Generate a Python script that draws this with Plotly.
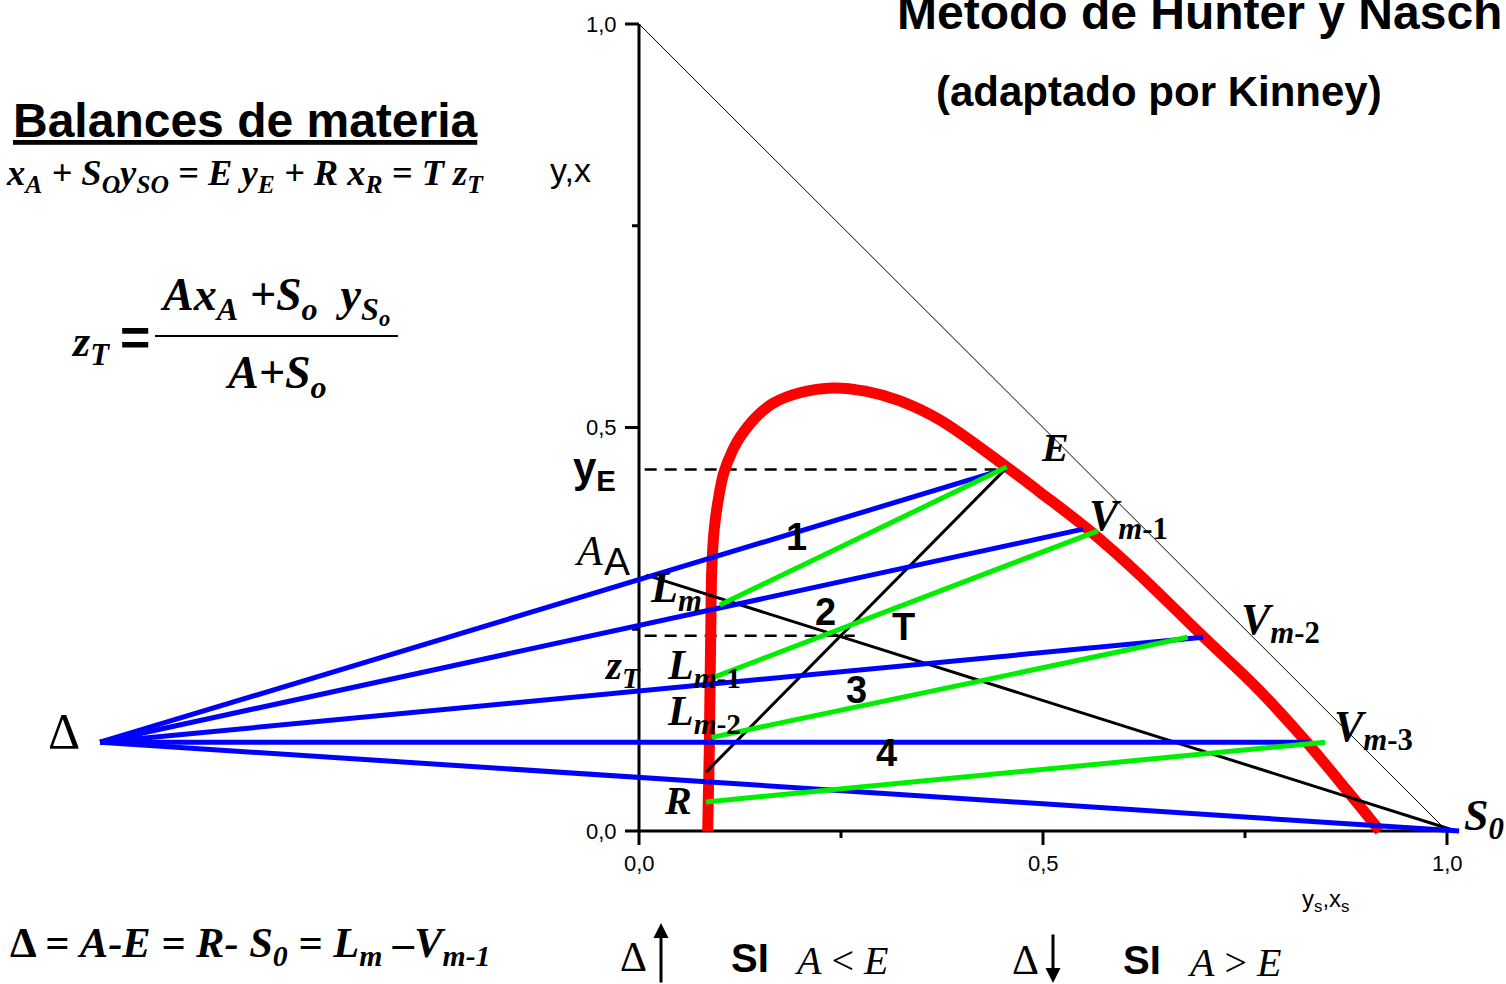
import plotly.graph_objects as go

W, H = 1506, 984
# pixel calibration of the reference: x=0 -> 639px, 1 unit = 808px ; y=0 -> 831px, 1 unit = 807px
X0, XS, Y0, YS = 639.0, 808.0, 831.0, 807.0
x_range = [-X0 / XS, (W - X0) / XS]
y_range = [-(H - Y0) / YS, Y0 / YS]

# ---------------- data ----------------
binodal_x = [0.085, 0.087, 0.088, 0.089, 0.090, 0.093, 0.098, 0.105, 0.116, 0.125, 0.144,
             0.166, 0.199, 0.240, 0.280, 0.323, 0.373, 0.455, 0.496, 0.558, 0.620, 0.694,
             0.765, 0.822, 0.874, 0.917]
binodal_y = [0.000, 0.100, 0.187, 0.261, 0.323, 0.373, 0.410, 0.444, 0.472, 0.488, 0.512,
             0.530, 0.543, 0.549, 0.545, 0.533, 0.509, 0.451, 0.420, 0.372, 0.317, 0.245,
             0.177, 0.115, 0.053, 0.000]

delta_pt = (-0.667, 0.110)
# operating lines from Delta
op_end_x = [0.452, 0.5495, 0.698, 0.830, 1.015]
op_end_y = [0.448, 0.374, 0.240, 0.110, 0.000]

# tie lines (raffinate L -> extract V)
tie_L_x = [0.100, 0.094, 0.090, 0.083]
tie_L_y = [0.280, 0.191, 0.116, 0.036]
tie_V_x = [0.455, 0.568, 0.679, 0.849]
tie_V_y = [0.451, 0.372, 0.240, 0.110]

# mixing lines
line_ER_x = [0.454, 0.083]
line_ER_y = [0.449, 0.073]
line_AS_x = [0.009, 1.011]
line_AS_y = [0.317, 0.000]

# dashed reference levels
yE_level, yE_span = 0.448, [0.007, 0.475]
zT_level, zT_span = 0.242, [0.007, 0.267]

hyp_x = [0.0, 1.0]
hyp_y = [1.0, 0.0]

tick_major = [0.0, 0.5, 1.0]
tick_minor = [0.25, 0.75]
tick_labels = ["0,0", "0,5", "1,0"]

# ---------------- figure ----------------
fig = go.Figure()

def line(xs, ys, color, width, dash=None):
    fig.add_trace(go.Scatter(x=xs, y=ys, mode="lines",
                             line=dict(color=color, width=width, dash=dash),
                             hoverinfo="skip", showlegend=False))

# hypotenuse
line(hyp_x, hyp_y, "black", 1)
# axes
line([0, 0], [0, 1], "black", 3)
line([0, 1], [0, 0], "black", 3)
TL, TS = 14 / XS, 7 / XS
TLy, TSy = 14 / YS, 7 / YS
for t in tick_major:
    line([t, t], [0, -TLy], "black", 3)
    line([0, -TL], [t, t], "black", 3)
for t in tick_minor:
    line([t, t], [0, -TSy], "black", 3)
    line([0, -TS], [t, t], "black", 3)

# dashed levels
line(yE_span, [yE_level, yE_level], "black", 2.5, "12px,8px")
line(zT_span, [zT_level, zT_level], "black", 2.5, "12px,8px")

# binodal curve
fig.add_trace(go.Scatter(x=binodal_x, y=binodal_y, mode="lines",
                         line=dict(color="#ff0000", width=11, shape="spline", smoothing=1.0),
                         hoverinfo="skip", showlegend=False))

# black mixing lines
line(line_ER_x, line_ER_y, "black", 3)
line(line_AS_x, line_AS_y, "black", 3)

# blue operating lines
for ex, ey in zip(op_end_x, op_end_y):
    line([delta_pt[0], ex], [delta_pt[1], ey], "#0000ff", 5)

# green tie lines
for lx, ly, vx, vy in zip(tie_L_x, tie_L_y, tie_V_x, tie_V_y):
    line([lx, vx], [ly, vy], "#00ee00", 5)

SANS = "Liberation Sans"
SERIF = "Liberation Serif"

def ann(text, px, py, size, family=SANS, xanchor="center", yanchor="middle"):
    fig.add_annotation(x=px / W, y=1 - py / H, xref="paper", yref="paper",
                       text=text, showarrow=False, xanchor=xanchor, yanchor=yanchor,
                       font=dict(family=family, size=size, color="black"))

# tick labels
for t, lab in zip(tick_major, tick_labels):
    ann(lab, X0 - 20, Y0 - t * YS, 22, xanchor="right")
    ann(lab, X0 + t * XS, Y0 + 32, 22)

# axis titles
ann("y,x", 570, 170, 34)
ann("y<sub>s</sub>,x<sub>s</sub>", 1325, 900, 24)

# titles
ann("<b>Metodo de Hunter y Nasch</b>", 1199, 12, 48)
ann("<b>(adaptado por Kinney)</b>", 1159, 91, 42)
ann("<b><u>Balances de materia</u></b>", 245, 121, 48)

# equations
ann("<b><i>x<sub>A</sub> + S<sub>O</sub>y<sub>SO</sub> = E y<sub>E</sub> + R x<sub>R</sub> = T z<sub>T</sub></i></b>",
    245, 176, 36.5, SERIF)
ann("<b><i>z<sub>T</sub></i></b>", 90, 344, 44, SERIF)
ann("<b>=</b>", 135, 337, 52, SANS)
ann("<b><i>Ax<sub>A</sub> +S<sub>o</sub>  y<sub>S<sub>o</sub></sub></i></b>", 275, 300, 46, SERIF)
ann("<b><i>A+S<sub>o</sub></i></b>", 276, 376, 46, SERIF)
fig.add_shape(type="line", xref="paper", yref="paper",
              x0=155 / W, x1=398 / W, y0=1 - 336 / H, y1=1 - 336 / H,
              line=dict(color="black", width=2))

ann("<b>Δ <i>= A-E = R- S<sub>0</sub> = L<sub>m</sub> –V<sub>m-1</sub></i></b>", 250, 945, 42.5, SERIF)

# in-plot labels
ann("<b>y<sub>E</sub></b>", 594, 470, 42)
ann("<i>A</i>", 588, 551, 42, SERIF)
ann("A", 617, 561, 39)
ann("<b><i>L<sub>m</sub></i></b>", 676, 590, 44, SERIF)
ann("<b><i>z<sub>T</sub></i></b>", 622, 668, 41, SERIF)
ann("<b><i>L<sub>m</sub></i></b><b><sub>-1</sub></b>", 704, 668, 42, SERIF)
ann("<b><i>L<sub>m</sub></i></b><b><sub>-2</sub></b>", 704, 714, 42, SERIF)
ann("<b><i>R</i></b>", 678, 800, 40, SERIF)
ann("<b><i>E</i></b>", 1055, 447, 40, SERIF)
ann("<b><i>V<sub>m</sub></i><sub>-1</sub></b>", 1128, 518, 44, SERIF)
ann("<b><i>V<sub>m</sub></i><sub>-2</sub></b>", 1280, 622, 44, SERIF)
ann("<b><i>V<sub>m</sub></i><sub>-3</sub></b>", 1373, 729, 44, SERIF)
ann("<b><i>S<sub>0</sub></i></b>", 1484, 818, 44, SERIF)
ann("<b>1</b>", 796, 537, 38)
ann("<b>2</b>", 826, 612, 38)
ann("<b>3</b>", 856, 690, 38)
ann("<b>4</b>", 886, 753, 38)
ann("<b>T</b>", 903, 627, 38)
ann("Δ", 64, 731, 50, SERIF)

# bottom notes
ann("Δ", 633, 957, 42, SERIF)
ann("<b>SI</b>", 750, 958, 40)
ann("<i>A</i> < <i>E</i>", 841, 960, 40, SERIF)
ann("Δ", 1025, 960, 42, SERIF)
ann("<b>SI</b>", 1142, 960, 40)
ann("<i>A</i> > <i>E</i>", 1234, 962, 40, SERIF)
fig.add_annotation(x=661 / W, y=1 - 923 / H, ax=0, ay=67,
                   xref="paper", yref="paper", axref="pixel", ayref="pixel",
                   showarrow=True, arrowhead=2, arrowsize=1, arrowwidth=3, arrowcolor="black", text="")
fig.add_annotation(x=1053 / W, y=1 - 984 / H, ax=0, ay=-51,
                   xref="paper", yref="paper", axref="pixel", ayref="pixel",
                   showarrow=True, arrowhead=2, arrowsize=1, arrowwidth=3, arrowcolor="black", text="")

fig.update_layout(
    width=W, height=H, margin=dict(l=0, r=0, t=0, b=0),
    paper_bgcolor="white", plot_bgcolor="white",
    xaxis=dict(range=x_range, visible=False, fixedrange=True),
    yaxis=dict(range=y_range, visible=False, fixedrange=True),
    showlegend=False,
)

fig.write_html("out.html")
